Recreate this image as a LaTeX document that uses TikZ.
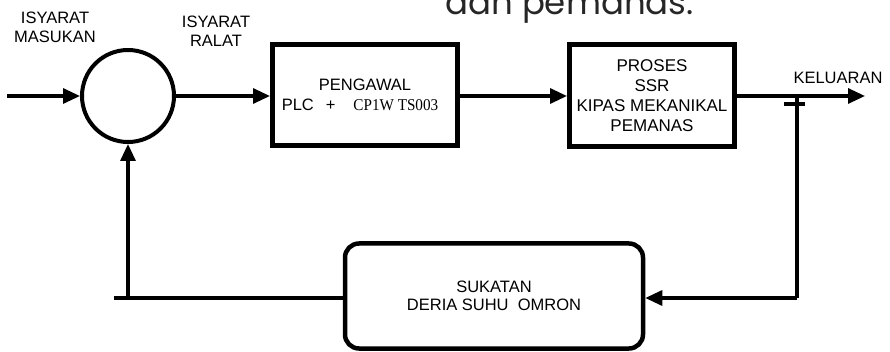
\documentclass[tikz,border=0pt]{standalone}
\usepackage{fontspec}
\setmainfont{Liberation Sans}
\newfontfamily\serifx[FakeStretch=0.92]{Liberation Serif}
\newfontfamily\titlef{Poppins}
\usetikzlibrary{arrows.meta}
\begin{document}
\begin{tikzpicture}[x=1pt,y=-1pt,
  lbl/.style={align=center,inner sep=0pt,font=\fontsize{16.5}{19}\selectfont},
  blk/.style={draw,line width=5pt,minimum width=185pt,minimum height=101pt,align=center,inner sep=0pt},
  sumc/.style={draw,circle,line width=4pt,minimum size=92pt,inner sep=0pt},
  wire/.style={line width=3.2pt},
  arr/.style={wire,-{Triangle[length=17pt,width=15pt]}}]
\useasboundingbox (0,0) rectangle (890,352);
\node[anchor=base west,inner sep=0pt,text=black!85,font=\titlef\fontsize{34}{40}\selectfont] (title) at (445,14.5) {dan pemanas.};
\node[sumc] (sum) at (128,96) {};
\coordinate (in) at (7,96);
\node[lbl] (lin) at (55,27) {ISYARAT\\MASUKAN};
\node[lbl] (lerr) at (216,31) {ISYARAT\\RALAT};
\node[blk,font=\fontsize{16.5}{20}\selectfont] (ctrl) at (365,95) {PENGAWAL\\PLC\hspace{12pt}+\hspace{18pt}{\serifx\fontsize{16.5}{20}\selectfont CP1W TS003}\hspace*{10pt}};
\node[blk,minimum width=165pt,minimum height=102pt,font=\fontsize{17}{20}\selectfont] (proc) at (652,95.5) {PROSES\\SSR\\KIPAS MEKANIKAL\\PEMANAS};
\coordinate (out) at (865,96);
\node[lbl] (lout) at (838,78) {KELUARAN};
\coordinate (tap) at (797,96);
\coordinate (tickL) at (784,104);
\coordinate (tickR) at (805,104);
\coordinate (fbr) at (797,298);
\coordinate (fbl) at (114,298);
\node[draw,line width=4.5pt,rounded corners=14pt,minimum width=298pt,minimum height=105pt,align=center,inner sep=0pt,font=\fontsize{16.5}{18}\selectfont] (sens) at (494,296) {SUKATAN\\DERIA SUHU\ \ OMRON};
\draw[arr] (in) -- (sum.west);
\draw[arr] (sum.east) -- (ctrl.west |- sum.east);
\draw[arr] (ctrl.east |- tap) -- (proc.west |- tap);
\draw[arr] (proc.east |- tap) -- (out);
\draw[wire] (tickL) -- (tickR);
\draw[wire] (tap) -- (fbr);
\draw[arr] (fbr) -- (fbr -| sens.east);
\draw[wire] (fbr -| sens.west) -- (fbl);
\draw[arr] (sum.south |- fbl) -- (sum.south);
\end{tikzpicture}
\end{document}
